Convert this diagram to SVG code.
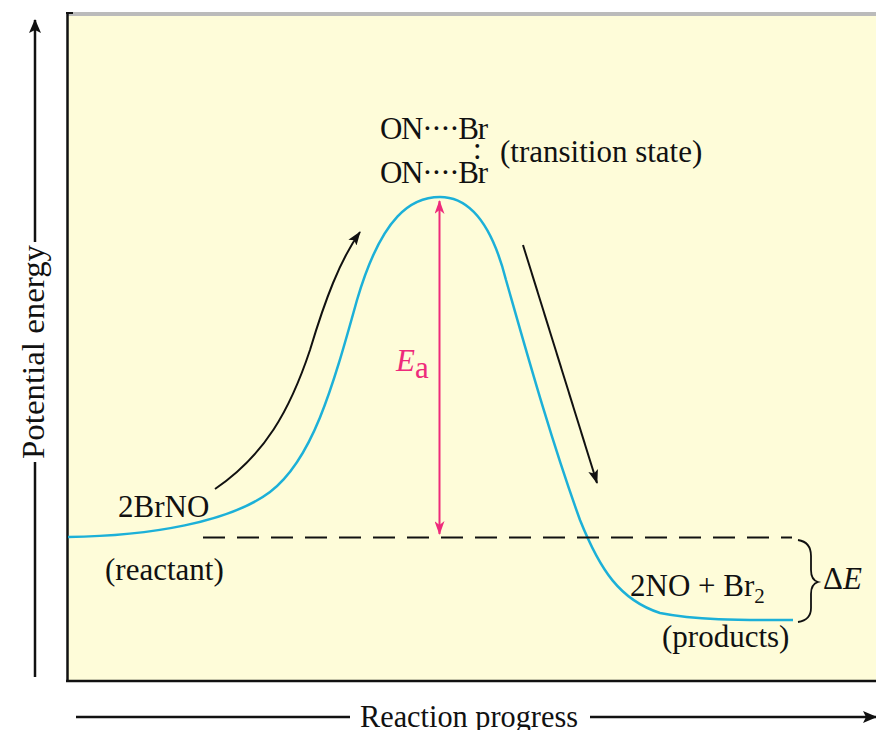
<svg xmlns="http://www.w3.org/2000/svg" width="876" height="730" viewBox="0 0 876 730">
<defs>
<style>
text{font-family:"Liberation Serif","Times New Roman",serif;fill:#111;font-size:31px}
.ax{stroke:#111;stroke-width:2.5;fill:none}
.arr{stroke:#111;stroke-width:2;fill:none}
.curve{stroke:#1CB0D8;stroke-width:2.5;fill:none}
.ea{stroke:#EE2A7B;stroke-width:2;fill:none}
</style>
<marker id="ah" viewBox="0 0 14 10" refX="13" refY="5" markerWidth="14" markerHeight="10" markerUnits="userSpaceOnUse" orient="auto"><path d="M0,0 L14,5 L0,10 L3,5 Z" fill="#111"/></marker>
<marker id="ahAx" viewBox="0 0 14 12" refX="13" refY="6" markerWidth="14" markerHeight="12" markerUnits="userSpaceOnUse" orient="auto"><path d="M0,0 L14,6 L0,12 L3,6 Z" fill="#111"/></marker>
<marker id="ahM" viewBox="0 0 14 10" refX="13" refY="5" markerWidth="14" markerHeight="10" markerUnits="userSpaceOnUse" orient="auto-start-reverse"><path d="M0,0 L14,5 L0,10 L4,5 Z" fill="#EE2A7B"/></marker>
</defs>
<rect width="876" height="730" fill="#fff"/>
<g id="panel">
<rect x="67" y="14" width="809" height="667" fill="#FEFCD9"/>
<line x1="67" y1="14" x2="876" y2="14" stroke="#BBBBBB" stroke-width="4"/>
<line x1="66" y1="13" x2="73" y2="13" stroke="#111" stroke-width="2"/>
<line x1="67.5" y1="12" x2="67.5" y2="682" stroke="#111" stroke-width="2.5"/>
<line x1="66" y1="681" x2="876" y2="681" stroke="#111" stroke-width="2.5"/>
</g>
<g id="y-axis">
<line class="ax" x1="35" y1="677" x2="35" y2="462"/>
<line class="ax" x1="35" y1="242" x2="35" y2="20" marker-end="url(#ahAx)"/>
<text transform="translate(44,352) rotate(-90)" text-anchor="middle" textLength="214" lengthAdjust="spacingAndGlyphs">Potential energy</text>
</g>
<g id="x-axis">
<line class="ax" x1="76" y1="717" x2="350" y2="717"/>
<text x="360" y="727" font-size="30" textLength="218" lengthAdjust="spacingAndGlyphs">Reaction progress</text>
<line class="ax" x1="590" y1="717" x2="876" y2="717" marker-end="url(#ahAx)"/>
</g>
<g id="energy-curve">
<path class="curve" d="M68,537 C150,536 230,522 270,492 C312,460 332,390 357,300 C382,215 412,197 440,197 C470,197 492,225 506,280 C526,350 551,440 580,520 C600,570 620,600 660,613 C700,621 750,620 793,620"/>
</g>
<g id="connectors">
<line x1="203" y1="537.5" x2="792" y2="537.5" stroke="#111" stroke-width="2" stroke-dasharray="22,12"/>
<path class="arr" d="M215,489 C265,455 290,410 310,350 C325,300 340,260 360,232" marker-end="url(#ah)"/>
<line class="arr" x1="523" y1="245" x2="597" y2="483" marker-end="url(#ah)"/>
<line class="ea" x1="439.5" y1="201" x2="439.5" y2="534" marker-start="url(#ahM)" marker-end="url(#ahM)"/>
<path d="M798,540 Q811,542 811,556 L811,570 Q811,580 818,582 Q811,584 811,594 L811,608 Q811,620 798,622" stroke="#111" stroke-width="1.8" fill="none"/>
</g>
<g id="transition-state">
<text x="380" y="139" textLength="108" lengthAdjust="spacing">ON····Br</text>
<text x="473" y="159" font-size="22">:</text>
<text x="380" y="183" textLength="108" lengthAdjust="spacing">ON····Br</text>
<text x="500" y="162">(transition state)</text>
</g>
<g id="ea-label">
<text x="396" y="371" font-size="29" font-style="italic" style="fill:#EE2A7B">E</text>
<text x="415" y="378" font-size="21" style="fill:#EE2A7B">a</text>
</g>
<g id="reactant">
<text x="118" y="517">2BrNO</text>
<text x="105" y="580">(reactant)</text>
</g>
<g id="products">
<text x="630" y="596">2NO + Br<tspan font-size="21" dy="7">2</tspan></text>
<text x="662" y="647">(products)</text>
</g>
<g id="delta-e">
<text x="823" y="589">Δ<tspan font-style="italic">E</tspan></text>
</g>
</svg>
